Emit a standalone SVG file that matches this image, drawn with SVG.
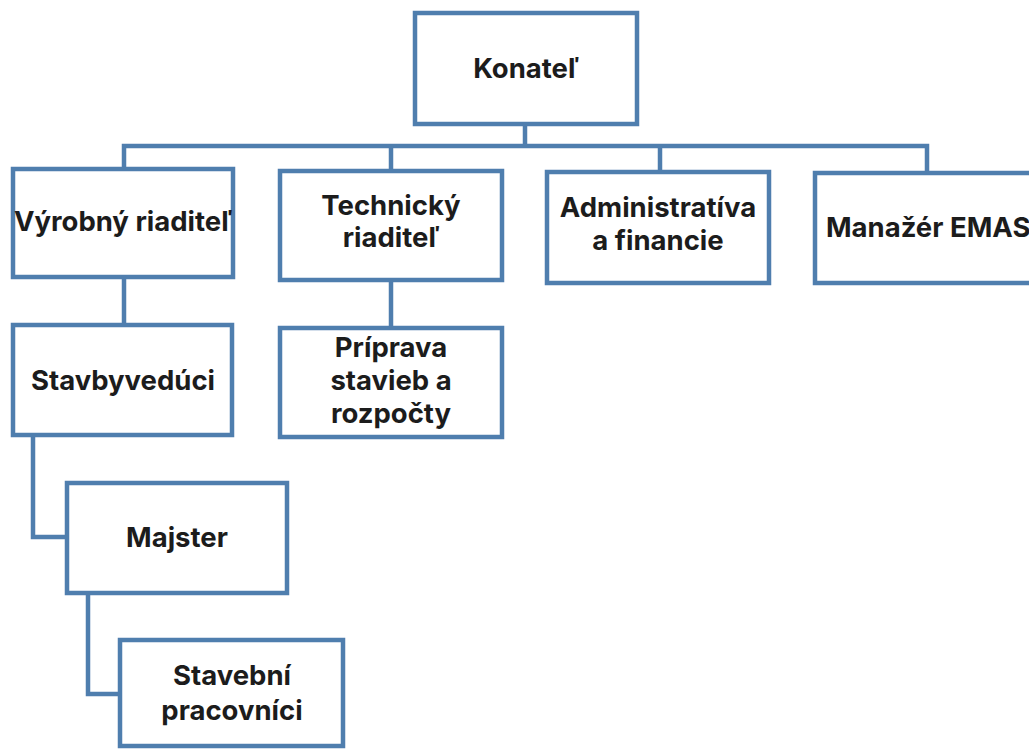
<svg xmlns="http://www.w3.org/2000/svg" width="1029" height="749" viewBox="0 0 1029 749">
<style>
.box{fill:#ffffff;stroke:#4f7eae;stroke-width:4.5}
.con{fill:none;stroke:#4f7eae;stroke-width:4.5;stroke-linejoin:miter}
.t{font-family:Inter,"Liberation Sans",sans-serif;font-weight:700;font-size:27.5px;fill:#1c1c1c;text-anchor:middle}
</style>
<rect width="1029" height="749" fill="#ffffff"/>
<g id="connectors">
<path class="con" d="M525 124 V146"/>
<path class="con" d="M124 169 V146 H927 V173"/>
<path class="con" d="M391 146 V171"/>
<path class="con" d="M660 146 V172"/>
<path class="con" d="M124 277 V325"/>
<path class="con" d="M391 280 V328"/>
<path class="con" d="M33 435 V537 H67"/>
<path class="con" d="M88 593 V694 H120"/>
</g>
<g id="n-konatel"><rect class="box" x="415" y="13" width="222" height="111"/><text class="t" x="526" y="78">Konateľ</text></g>
<g id="n-vyrobny"><rect class="box" x="13" y="169" width="220" height="108"/><text class="t" x="123" y="231">Výrobný riaditeľ</text></g>
<g id="n-technicky"><rect class="box" x="280" y="171" width="222" height="109"/><text class="t" x="391" y="215">Technický</text><text class="t" x="391" y="247">riaditeľ</text></g>
<g id="n-admin"><rect class="box" x="547" y="172" width="222" height="111"/><text class="t" x="658" y="217">Administratíva</text><text class="t" x="658" y="250">a financie</text></g>
<g id="n-emas"><rect class="box" x="815" y="173" width="230" height="110"/><text class="t" x="826" y="237" style="text-anchor:start">Manažér EMAS</text></g>
<g id="n-stavbyveduci"><rect class="box" x="13" y="325" width="219" height="110"/><text class="t" x="123" y="390">Stavbyvedúci</text></g>
<g id="n-priprava"><rect class="box" x="280" y="328" width="222" height="109"/><text class="t" x="391" y="357">Príprava</text><text class="t" x="391" y="390">stavieb a</text><text class="t" x="391" y="423">rozpočty</text></g>
<g id="n-majster"><rect class="box" x="67" y="483" width="220" height="110"/><text class="t" x="177" y="547">Majster</text></g>
<g id="n-stavebni"><rect class="box" x="120" y="640" width="223" height="106"/><text class="t" x="232" y="685">Stavební</text><text class="t" x="232" y="720">pracovníci</text></g>
</svg>
